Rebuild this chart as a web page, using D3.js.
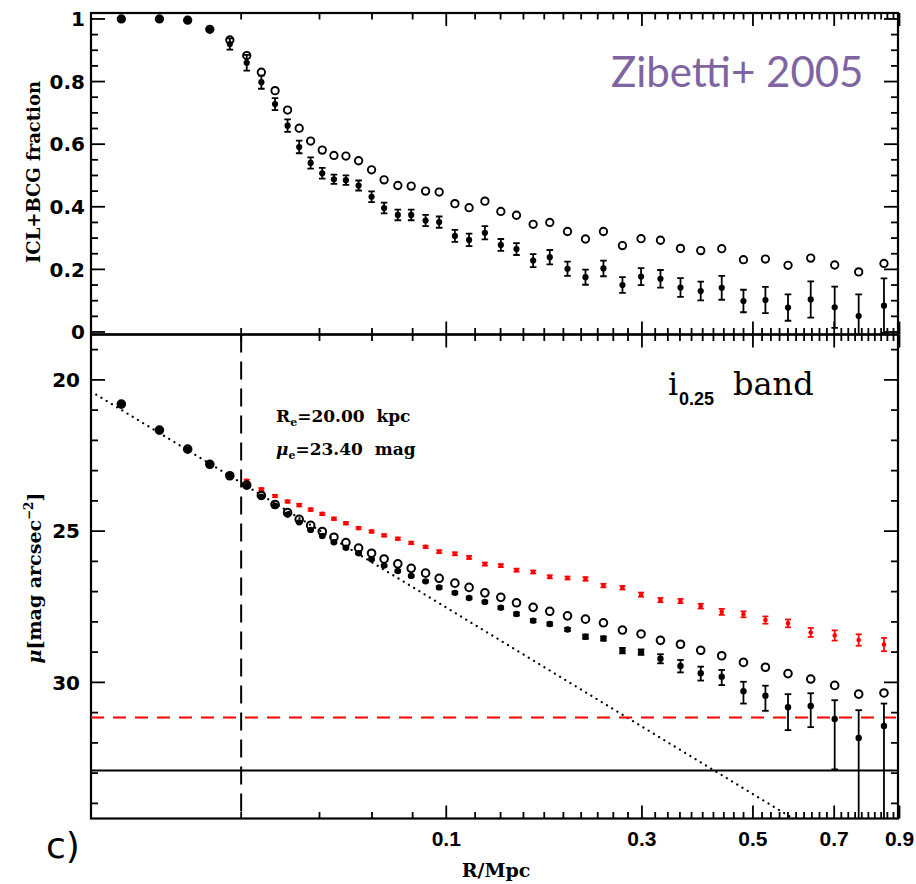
<!DOCTYPE html>
<html>
<head>
<meta charset="utf-8">
<script src="https://cdn.jsdelivr.net/npm/d3@7"></script>
<style>
  body { margin: 0; background: #fff; }
  svg { display: block; }
</style>
</head>
<body>
<svg id="chart" width="916" height="884"></svg>
<script>
// Annulus radii (Mpc)
const radius = [0.0051, 0.0083, 0.0115, 0.0146, 0.0179, 0.0211, 0.0242, 0.0274, 0.0306, 0.0338,
  0.0372, 0.0409, 0.0449, 0.0493, 0.0543, 0.0598, 0.0655, 0.0722, 0.0792, 0.0873,
  0.0955, 0.1057, 0.1156, 0.1274, 0.1402, 0.1537, 0.1691, 0.1856, 0.2045, 0.2251,
  0.2472, 0.2723, 0.2987, 0.3282, 0.3609, 0.3964, 0.4359, 0.4798, 0.5275, 0.5802,
  0.6370, 0.7014, 0.7706, 0.8490];

// ICL+BCG light fraction
const fracOpen = [1.000, 1.000, 0.996, 0.967, 0.933, 0.883, 0.830, 0.771, 0.709, 0.651,
  0.610, 0.581, 0.564, 0.562, 0.547, 0.518, 0.486, 0.468, 0.466, 0.450,
  0.447, 0.410, 0.397, 0.418, 0.385, 0.373, 0.344, 0.350, 0.321, 0.297,
  0.321, 0.276, 0.298, 0.293, 0.267, 0.260, 0.266, 0.231, 0.233, 0.213,
  0.236, 0.214, 0.192, 0.219];
const fracFilled = [1.000, 1.000, 0.996, 0.967, 0.920, 0.860, 0.798, 0.728, 0.659, 0.591,
  0.540, 0.507, 0.488, 0.485, 0.468, 0.432, 0.396, 0.374, 0.374, 0.356,
  0.351, 0.307, 0.294, 0.317, 0.278, 0.265, 0.228, 0.239, 0.202, 0.175,
  0.203, 0.150, 0.177, 0.170, 0.142, 0.131, 0.141, 0.099, 0.102, 0.078,
  0.104, 0.079, 0.051, 0.084];
const fracFilledErr = [0, 0, 0, 0, 0.018, 0.025, 0.021, 0.019, 0.020, 0.020,
  0.018, 0.017, 0.015, 0.015, 0.016, 0.017, 0.017, 0.017, 0.017, 0.018,
  0.018, 0.019, 0.020, 0.021, 0.019, 0.019, 0.021, 0.023, 0.023, 0.024,
  0.025, 0.025, 0.027, 0.028, 0.030, 0.030, 0.038, 0.036, 0.042, 0.042,
  0.058, 0.066, 0.069, 0.087];

// Surface brightness profiles (mag arcsec^-2)
const muOpen = [20.80, 21.66, 22.29, 22.79, 23.17, 23.48, 23.82, 24.12, 24.39, 24.61,
  24.81, 25.01, 25.20, 25.38, 25.56, 25.73, 25.92, 26.08, 26.23, 26.39,
  26.56, 26.72, 26.86, 27.04, 27.19, 27.37, 27.52, 27.65, 27.80, 27.91,
  28.03, 28.27, 28.40, 28.61, 28.74, 28.94, 29.12, 29.34, 29.50, 29.71,
  29.89, 30.10, 30.39, 30.35];
const muFilled = [20.80, 21.66, 22.29, 22.79, 23.17, 23.50, 23.86, 24.16, 24.45, 24.71,
  24.96, 25.16, 25.37, 25.55, 25.73, 25.93, 26.14, 26.32, 26.48, 26.66,
  26.86, 27.04, 27.21, 27.34, 27.53, 27.74, 27.96, 28.07, 28.25, 28.49,
  28.55, 28.95, 29.00, 29.22, 29.46, 29.70, 29.81, 30.29, 30.44, 30.82,
  30.78, 31.21, 31.84, 31.44];
// brighter-side and fainter-side errors of the filled profile
const muFilledErrUp = [0.02, 0.02, 0.02, 0.02, 0.02, 0.02, 0.02, 0.02, 0.02, 0.02,
  0.02, 0.02, 0.03, 0.03, 0.03, 0.03, 0.03, 0.03, 0.03, 0.03,
  0.04, 0.04, 0.04, 0.04, 0.04, 0.05, 0.05, 0.05, 0.05, 0.07,
  0.07, 0.09, 0.09, 0.15, 0.20, 0.22, 0.22, 0.31, 0.33, 0.43,
  0.42, 0.62, 0.92, 0.74];
const muFilledErrDown = [0.02, 0.02, 0.02, 0.02, 0.02, 0.02, 0.02, 0.02, 0.02, 0.02,
  0.02, 0.02, 0.03, 0.03, 0.03, 0.03, 0.03, 0.03, 0.03, 0.03,
  0.04, 0.04, 0.04, 0.04, 0.04, 0.05, 0.05, 0.05, 0.05, 0.07,
  0.07, 0.09, 0.09, 0.15, 0.21, 0.24, 0.28, 0.41, 0.50, 0.76,
  0.70, 1.67, 9.00, 9.00];
const muRed = [null, null, null, null, null, 23.34, 23.62, 23.84, 24.02, 24.14,
  24.29, 24.43, 24.59, 24.74, 24.90, 25.01, 25.14, 25.25, 25.39, 25.52,
  25.68, 25.75, 25.87, 26.09, 26.14, 26.29, 26.35, 26.51, 26.55, 26.58,
  26.80, 26.87, 27.10, 27.28, 27.31, 27.48, 27.67, 27.75, 27.94, 28.05,
  28.35, 28.45, 28.60, 28.75];
const muRedErr = [0, 0, 0, 0, 0, 0.04, 0.04, 0.04, 0.04, 0.04,
  0.04, 0.04, 0.04, 0.04, 0.04, 0.04, 0.04, 0.04, 0.04, 0.04,
  0.05, 0.05, 0.05, 0.05, 0.05, 0.05, 0.05, 0.05, 0.05, 0.06,
  0.06, 0.06, 0.07, 0.07, 0.07, 0.08, 0.10, 0.10, 0.12, 0.13,
  0.15, 0.17, 0.19, 0.22];

// de Vaucouleurs fit parameters and limiting levels
const effRadiusKpc = 20.00;
const effMu = 23.40;
const redLimitMu = 31.16;
const skyLimitMu = 32.91;

// Axis tick labels
const xTickLabels = ["0.1", "0.3", "0.5", "0.7", "0.9"];
const fracTickLabels = ["0", "0.2", "0.4", "0.6", "0.8", "1"];
const muTickLabels = ["20", "25", "30"];

const svg = d3.select("#chart");
const left = 91, right = 898, topY = 13, midY = 334.5, bottomY = 818.5;

// R^(1/4) radial axis
const x = d3.scalePow().exponent(0.25).domain([0.0033, 0.895]).range([left, right]);
const yFrac = d3.scaleLinear().domain([-0.008, 1.019]).range([midY, topY]);
const yMu = d3.scaleLinear().domain([18.5, 34.5]).range([midY, bottomY]);

const defs = svg.append("defs");
defs.append("clipPath").attr("id", "clipTop").append("rect")
  .attr("x", left).attr("y", topY).attr("width", right - left).attr("height", midY - topY);
defs.append("clipPath").attr("id", "clipBottom").append("rect")
  .attr("x", left).attr("y", midY).attr("width", right - left).attr("height", bottomY - midY);

const tickFont = "'Liberation Sans', Arial, sans-serif";
const yTickFont = "'DejaVu Sans', sans-serif";
const serifFont = "'DejaVu Serif', serif";

// ---- ticks ----
const xMajor = xTickLabels.map(Number);
const xMinor = d3.range(1, 46).map(i => +(i * 0.02).toFixed(2)).filter(v => !xMajor.some(m => Math.abs(m - v) < 1e-6));

function xTicks(yLine, dir) {
  const g = svg.append("g").attr("stroke", "#000").attr("stroke-width", 1.8);
  xMinor.forEach(v => g.append("line").attr("x1", x(v)).attr("x2", x(v)).attr("y1", yLine).attr("y2", yLine + dir * 6.5));
  xMajor.forEach(v => g.append("line").attr("x1", x(v)).attr("x2", x(v)).attr("y1", yLine).attr("y2", yLine + dir * 13));
}
xTicks(topY, 1);
xTicks(midY, -1);
xTicks(midY, 1);
xTicks(bottomY, -1);

function yTicks(scale, majors, minors) {
  const g = svg.append("g").attr("stroke", "#000").attr("stroke-width", 1.8);
  minors.forEach(v => {
    g.append("line").attr("x1", left).attr("x2", left + 7).attr("y1", scale(v)).attr("y2", scale(v));
    g.append("line").attr("x1", right).attr("x2", right - 7).attr("y1", scale(v)).attr("y2", scale(v));
  });
  majors.forEach(v => {
    g.append("line").attr("x1", left).attr("x2", left + 14).attr("y1", scale(v)).attr("y2", scale(v));
    g.append("line").attr("x1", right).attr("x2", right - 14).attr("y1", scale(v)).attr("y2", scale(v));
  });
}
const fracMajor = fracTickLabels.map(Number);
yTicks(yFrac, fracMajor, d3.range(0, 21).map(i => i * 0.05).filter(v => !fracMajor.some(m => Math.abs(m - v) < 1e-6)));
const muMajor = muTickLabels.map(Number);
yTicks(yMu, muMajor, d3.range(19, 35).filter(v => !muMajor.includes(v)));

// ---- frames ----
svg.append("rect").attr("x", left).attr("y", topY).attr("width", right - left).attr("height", midY - topY)
  .attr("fill", "none").attr("stroke", "#000").attr("stroke-width", 2.2);
svg.append("rect").attr("x", left).attr("y", midY).attr("width", right - left).attr("height", bottomY - midY)
  .attr("fill", "none").attr("stroke", "#000").attr("stroke-width", 2.2);

// ---- tick labels ----
svg.append("g").selectAll("text").data(xTickLabels).join("text")
  .attr("x", d => x(+d)).attr("y", 846).attr("text-anchor", "middle")
  .attr("font-family", tickFont).attr("font-weight", "bold").attr("font-size", 21).text(d => d);
svg.append("g").selectAll("text").data(fracTickLabels).join("text")
  .attr("x", 85).attr("y", d => yFrac(+d)).attr("dy", "0.36em").attr("text-anchor", "end")
  .attr("font-family", yTickFont).attr("font-weight", "bold").attr("font-size", 20).text(d => d);
svg.append("g").selectAll("text").data(muTickLabels).join("text")
  .attr("x", 80).attr("y", d => yMu(+d)).attr("dy", "0.36em").attr("text-anchor", "end")
  .attr("font-family", yTickFont).attr("font-weight", "bold").attr("font-size", 20).text(d => d);

// ---- axis titles ----
svg.append("text").attr("transform", "translate(40,172) rotate(-90)").attr("text-anchor", "middle")
  .attr("font-family", serifFont).attr("font-weight", "bold").attr("font-size", 18)
  .text("ICL+BCG fraction");
const muTitle = svg.append("text").attr("transform", "translate(41,578) rotate(-90)").attr("text-anchor", "middle")
  .attr("font-family", serifFont).attr("font-weight", "bold").attr("font-size", 19);
muTitle.append("tspan").attr("font-style", "italic").text("μ");
muTitle.append("tspan").text("[mag arcsec");
muTitle.append("tspan").attr("font-size", 12).attr("dy", -8).text("−2");
muTitle.append("tspan").attr("dy", 8).text("]");
svg.append("text").attr("x", 496).attr("y", 877).attr("text-anchor", "middle")
  .attr("font-family", serifFont).attr("font-weight", "bold").attr("font-size", 19).text("R/Mpc");
svg.append("text").attr("x", 46).attr("y", 858)
  .attr("font-family", "'DejaVu Sans', sans-serif").attr("font-size", 36).text("c)");

// ---- error bar helper ----
function errorBar(g, xv, y0, y1, cap, color, width) {
  g.append("line").attr("x1", xv).attr("x2", xv).attr("y1", y0).attr("y2", y1)
    .attr("stroke", color).attr("stroke-width", width);
  [y0, y1].forEach(yy => g.append("line").attr("x1", xv - cap).attr("x2", xv + cap).attr("y1", yy).attr("y2", yy)
    .attr("stroke", color).attr("stroke-width", width));
}

// ---- top panel: light fraction ----
const idx = d3.range(radius.length);
const fracPanel = svg.append("g").attr("clip-path", "url(#clipTop)");
idx.forEach(i => {
  if (fracFilledErr[i] > 0) {
    errorBar(fracPanel, x(radius[i]), yFrac(fracFilled[i] + fracFilledErr[i]), yFrac(fracFilled[i] - fracFilledErr[i]), 3.3, "#000", 1.8);
  }
});
fracPanel.append("g").selectAll("circle").data(idx).join("circle")
  .attr("cx", i => x(radius[i])).attr("cy", i => yFrac(fracOpen[i])).attr("r", 3.7)
  .attr("fill", "none").attr("stroke", "#000").attr("stroke-width", 1.9);
fracPanel.append("g").selectAll("circle").data(idx).join("circle")
  .attr("cx", i => x(radius[i])).attr("cy", i => yFrac(fracFilled[i])).attr("r", 3.1).attr("fill", "#000");

// ---- bottom panel: surface brightness ----
const muPanel = svg.append("g").attr("clip-path", "url(#clipBottom)");

// de Vaucouleurs r^(1/4) law with the quoted Re and mu_e
const effRadius = effRadiusKpc / 1000;
const deVauc = r => effMu + 8.3268 * (Math.pow(r / effRadius, 0.25) - 1);
const modelR = x.domain();
muPanel.append("line")
  .attr("x1", x(modelR[0])).attr("y1", yMu(deVauc(modelR[0])))
  .attr("x2", x(modelR[1])).attr("y2", yMu(deVauc(modelR[1])))
  .attr("stroke", "#000").attr("stroke-width", 2.2).attr("stroke-linecap", "round")
  .attr("stroke-dasharray", "0.1,6");

// limiting levels
muPanel.append("line").attr("x1", left).attr("x2", right).attr("y1", yMu(redLimitMu)).attr("y2", yMu(redLimitMu))
  .attr("stroke", "#ff0000").attr("stroke-width", 2).attr("stroke-dasharray", "13,9");
muPanel.append("line").attr("x1", left).attr("x2", right).attr("y1", yMu(skyLimitMu)).attr("y2", yMu(skyLimitMu))
  .attr("stroke", "#000").attr("stroke-width", 2);

// effective radius marker
muPanel.append("line").attr("x1", x(effRadius)).attr("x2", x(effRadius)).attr("y1", midY).attr("y2", bottomY)
  .attr("stroke", "#000").attr("stroke-width", 2).attr("stroke-dasharray", "18,9");

// red profile
idx.filter(i => muRed[i] !== null).forEach(i => {
  errorBar(muPanel, x(radius[i]), yMu(muRed[i] - muRedErr[i]), yMu(muRed[i] + muRedErr[i]), 3, "#ff0000", 1.7);
  muPanel.append("circle").attr("cx", x(radius[i])).attr("cy", yMu(muRed[i])).attr("r", 2.3).attr("fill", "#ff0000");
});

// black profiles
idx.forEach(i => {
  errorBar(muPanel, x(radius[i]), yMu(muFilled[i] - muFilledErrUp[i]), yMu(muFilled[i] + muFilledErrDown[i]), 3.3, "#000", 1.8);
});
muPanel.append("g").selectAll("circle").data(idx).join("circle")
  .attr("cx", i => x(radius[i])).attr("cy", i => yMu(muOpen[i])).attr("r", 3.8)
  .attr("fill", "none").attr("stroke", "#000").attr("stroke-width", 2);
muPanel.append("g").selectAll("circle").data(idx).join("circle")
  .attr("cx", i => x(radius[i])).attr("cy", i => yMu(muFilled[i])).attr("r", 3.2).attr("fill", "#000");

// ---- annotations ----
const re = svg.append("text").attr("x", 276).attr("y", 422)
  .attr("font-family", serifFont).attr("font-weight", "bold").attr("font-size", 17);
re.append("tspan").text("R");
re.append("tspan").attr("font-size", 11).attr("dy", 4).text("e");
re.append("tspan").attr("dy", -4).text("=20.00\u00a0\u00a0kpc");
const me = svg.append("text").attr("x", 276).attr("y", 455)
  .attr("font-family", serifFont).attr("font-weight", "bold").attr("font-size", 17);
me.append("tspan").attr("font-style", "italic").text("μ");
me.append("tspan").attr("font-size", 11).attr("dy", 4).text("e");
me.append("tspan").attr("dy", -4).text("=23.40\u00a0\u00a0mag");

svg.append("text").attr("x", 668).attr("y", 395)
  .attr("font-family", serifFont).attr("font-size", 32).text("i");
svg.append("text").attr("x", 679).attr("y", 405)
  .attr("font-family", tickFont).attr("font-weight", "bold").attr("font-size", 18).text("0.25");
svg.append("text").attr("x", 733).attr("y", 395)
  .attr("font-family", serifFont).attr("font-size", 32).text("band");

svg.append("text").attr("x", 611).attr("y", 87)
  .attr("font-family", "Lato, 'Open Sans', sans-serif").attr("font-size", 42).attr("fill", "#8064a2")
  .text("Zibetti+ 2005");
</script>
</body>
</html>
